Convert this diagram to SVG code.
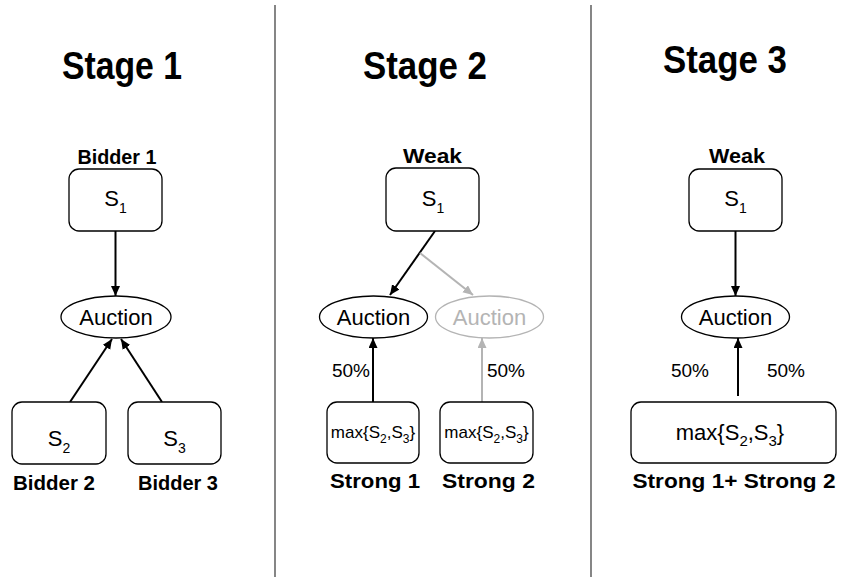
<svg xmlns="http://www.w3.org/2000/svg" width="841" height="577" viewBox="0 0 841 577">
<style>
text{font-family:"Liberation Sans",Arial,sans-serif;fill:#000}
.title{font-size:39px;font-weight:bold;text-anchor:middle}
.lbl{font-size:21px;font-weight:bold;text-anchor:middle}
.sv{font-size:22px;text-anchor:middle}
.mx{font-size:17px;text-anchor:middle}
.auc{font-size:22px;text-anchor:middle}
.pct{font-size:19px;text-anchor:middle}
.box{fill:#fff;stroke:#000;stroke-width:1.3}
.ell{fill:#fff;stroke:#000;stroke-width:1.3}
.gray .ell{stroke:#b4b4b4}
.gray text{fill:#b4b4b4}
.ln{stroke:#000;stroke-width:2;fill:none}
.lg{stroke:#b4b4b4;stroke-width:2;fill:none}
.div{stroke:#444;stroke-width:1.3}
</style>
<defs>
<marker id="ah" markerUnits="userSpaceOnUse" markerWidth="10" markerHeight="10" refX="10" refY="4.5" orient="auto">
<path d="M0,0 L10,4.5 L0,9 z" fill="#000"/>
</marker>
<marker id="ahg" markerUnits="userSpaceOnUse" markerWidth="10" markerHeight="10" refX="10" refY="4.5" orient="auto">
<path d="M0,0 L10,4.5 L0,9 z" fill="#b4b4b4"/>
</marker>
</defs>
<rect width="841" height="577" fill="#fff"/>
<g id="dividers">
<line class="div" x1="275" y1="5" x2="275" y2="577"/>
<line class="div" x1="591" y1="5" x2="591" y2="577"/>
</g>
<g id="titles">
<text class="title" x="122" y="79" textLength="120" lengthAdjust="spacingAndGlyphs">Stage 1</text>
<text class="title" x="425" y="79" textLength="124" lengthAdjust="spacingAndGlyphs">Stage 2</text>
<text class="title" x="725" y="73" textLength="124" lengthAdjust="spacingAndGlyphs">Stage 3</text>
</g>
<g id="connectors">
<line class="ln" x1="115.5" y1="231" x2="115.5" y2="296" marker-end="url(#ah)"/>
<line class="ln" x1="70" y1="402" x2="112" y2="339" marker-end="url(#ah)"/>
<line class="ln" x1="162" y1="402" x2="121" y2="339" marker-end="url(#ah)"/>
<line class="ln" x1="435" y1="231" x2="390" y2="295" marker-end="url(#ah)"/>
<line class="lg" x1="420" y1="253" x2="473" y2="295" marker-end="url(#ahg)"/>
<line class="ln" x1="373" y1="402" x2="373" y2="338" marker-end="url(#ah)"/>
<line class="lg" x1="482" y1="402" x2="482" y2="338" marker-end="url(#ahg)"/>
<line class="ln" x1="735.5" y1="231" x2="735.5" y2="296" marker-end="url(#ah)"/>
<line class="ln" x1="738" y1="396" x2="738" y2="338" marker-end="url(#ah)"/>
</g>
<g id="s1-bidder1">
<text class="lbl" x="117" y="164" textLength="79" lengthAdjust="spacingAndGlyphs">Bidder 1</text>
<rect class="box" x="69" y="169" width="93" height="62" rx="10"/>
<text class="sv" x="115.5" y="206">S<tspan font-size="14" dy="7">1</tspan></text>
</g>
<g id="s1-auction">
<ellipse class="ell" cx="116" cy="317" rx="55" ry="21"/>
<text class="auc" x="116" y="325">Auction</text>
</g>
<g id="s1-bidder2">
<rect class="box" x="12" y="402" width="94" height="62" rx="10"/>
<text class="sv" x="59" y="446">S<tspan font-size="14" dy="7">2</tspan></text>
<text class="lbl" x="54" y="490" textLength="82" lengthAdjust="spacingAndGlyphs">Bidder 2</text>
</g>
<g id="s1-bidder3">
<rect class="box" x="128" y="402" width="93" height="62" rx="10"/>
<text class="sv" x="174.5" y="446">S<tspan font-size="14" dy="7">3</tspan></text>
<text class="lbl" x="178" y="490" textLength="80" lengthAdjust="spacingAndGlyphs">Bidder 3</text>
</g>
<g id="s2-weak">
<text class="lbl" x="432.5" y="163" textLength="59" lengthAdjust="spacingAndGlyphs">Weak</text>
<rect class="box" x="386" y="168" width="93" height="63" rx="10"/>
<text class="sv" x="433" y="206">S<tspan font-size="14" dy="7">1</tspan></text>
</g>
<g id="s2-auction1">
<ellipse class="ell" cx="373.5" cy="317" rx="54" ry="21"/>
<text class="auc" x="373.5" y="325">Auction</text>
</g>
<g id="s2-auction2" class="gray">
<ellipse class="ell" cx="489.5" cy="317" rx="54" ry="21"/>
<text class="auc" x="489.5" y="325">Auction</text>
</g>
<g id="s2-pct">
<text class="pct" x="351" y="377">50%</text>
<text class="pct" x="506" y="377">50%</text>
</g>
<g id="s2-strong1">
<rect class="box" x="327" y="402" width="92" height="61" rx="10"/>
<text class="mx" x="373" y="438">max{S<tspan font-size="12" dy="5">2</tspan><tspan dy="-5">,S</tspan><tspan font-size="12" dy="5">3</tspan><tspan dy="-5">}</tspan></text>
<text class="lbl" x="375" y="488" textLength="90" lengthAdjust="spacingAndGlyphs">Strong 1</text>
</g>
<g id="s2-strong2">
<rect class="box" x="440" y="402" width="93" height="61" rx="10"/>
<text class="mx" x="486.5" y="438">max{S<tspan font-size="12" dy="5">2</tspan><tspan dy="-5">,S</tspan><tspan font-size="12" dy="5">3</tspan><tspan dy="-5">}</tspan></text>
<text class="lbl" x="488.5" y="488" textLength="93" lengthAdjust="spacingAndGlyphs">Strong 2</text>
</g>
<g id="s3-weak">
<text class="lbl" x="737" y="163" textLength="56" lengthAdjust="spacingAndGlyphs">Weak</text>
<rect class="box" x="689" y="169" width="93" height="62" rx="10"/>
<text class="sv" x="735.5" y="206">S<tspan font-size="14" dy="7">1</tspan></text>
</g>
<g id="s3-auction">
<ellipse class="ell" cx="735.5" cy="317" rx="54" ry="21"/>
<text class="auc" x="735.5" y="325">Auction</text>
</g>
<g id="s3-pct">
<text class="pct" x="690" y="377">50%</text>
<text class="pct" x="786" y="377">50%</text>
</g>
<g id="s3-strong">
<rect class="box" x="631" y="402" width="205" height="61" rx="10"/>
<text x="730" y="440" style="font-size:22px;text-anchor:middle">max{S<tspan font-size="15" dy="6">2</tspan><tspan dy="-6">,S</tspan><tspan font-size="15" dy="6">3</tspan><tspan dy="-6">}</tspan></text>
<text class="lbl" x="734" y="488" textLength="203" lengthAdjust="spacingAndGlyphs">Strong 1+ Strong 2</text>
</g>
</svg>
